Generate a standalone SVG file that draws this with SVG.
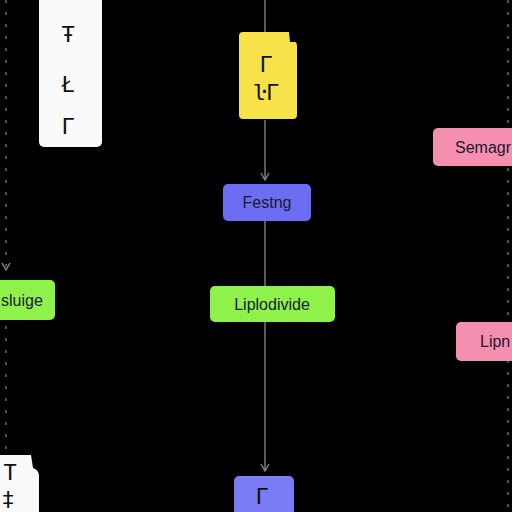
<svg xmlns="http://www.w3.org/2000/svg" width="512" height="512" viewBox="0 0 512 512">
<defs>
<style>
.lbl{font-family:"Liberation Sans",Arial,sans-serif;font-size:16px;fill:#1a1a2e;}
.glyph{font-family:"DejaVu Sans Mono",monospace;font-size:22px;fill:#111;}
.conn{stroke:#8a8a8a;stroke-width:1.3;fill:none;}
.dot{stroke:#777;stroke-width:1.3;stroke-dasharray:3 9;fill:none;}
</style>
<marker id="arr" viewBox="0 0 10 10" refX="9" refY="5" markerWidth="10" markerHeight="10" orient="auto" markerUnits="userSpaceOnUse">
<path d="M2,1 L9,5 L2,9" stroke="#8a8a8a" stroke-width="1.3" fill="none"/>
</marker>
</defs>
<rect width="512" height="512" fill="#000"/>
<g id="connectors">
<line class="dot" x1="6" y1="0" x2="6" y2="270" marker-end="url(#arr)"/>
<line class="dot" x1="6" y1="326" x2="6" y2="450"/>
<line class="conn" x1="265" y1="0" x2="265" y2="33"/>
<line class="conn" x1="265" y1="120" x2="265" y2="180" marker-end="url(#arr)"/>
<line class="conn" x1="265" y1="221" x2="265" y2="286"/>
<line class="conn" x1="265" y1="322" x2="265" y2="471" marker-end="url(#arr)"/>
<line class="dot" x1="508" y1="0" x2="508" y2="512"/>
</g>
<g id="node-white-top">
<rect x="39" y="-10" width="63" height="157" rx="5" fill="#fafafa"/>
<text class="glyph" x="68" y="42" text-anchor="middle">Ŧ</text>
<text class="glyph" x="68" y="92" text-anchor="middle">Ł</text>
<text class="glyph" x="68" y="134" text-anchor="middle">Г</text>
</g>
<g id="node-yellow">
<path d="M243,32 H289 L290,42 H295 Q297,42 297,47 V115 Q297,119 293,119 H243 Q239,119 239,115 V36 Q239,32 243,32 Z" fill="#f8e24a"/>
<text class="glyph" x="266" y="72" text-anchor="middle">Г</text>
<text class="glyph" x="266" y="100" text-anchor="middle">ŀГ</text>
</g>
<g id="node-fasting">
<rect x="223" y="184" width="88" height="37" rx="5" fill="#6b6ef2"/>
<text class="lbl" x="267" y="208" text-anchor="middle">Festng</text>
</g>
<g id="node-semagr">
<rect x="433" y="128" width="90" height="38" rx="5" fill="#f58fb0"/>
<text class="lbl" x="455" y="153">Semagr</text>
</g>
<g id="node-green-left">
<rect x="-20" y="280" width="75" height="40" rx="5" fill="#8ff24a"/>
<text class="lbl" x="1" y="306">sluige</text>
</g>
<g id="node-liplodivide">
<rect x="210" y="286" width="125" height="36" rx="5" fill="#8ff24a"/>
<text class="lbl" x="272" y="310" text-anchor="middle">Liplodivide</text>
</g>
<g id="node-lipn">
<rect x="456" y="322" width="70" height="39" rx="5" fill="#f58fb0"/>
<text class="lbl" x="480" y="347">Lipn</text>
</g>
<g id="node-white-bottom">
<path d="M-5,455 H31 L33,468 Q39,470 39,476 V520 H-5 Z" fill="#fafafa"/>
<text class="glyph" x="10" y="480" text-anchor="middle">T</text>
<text class="glyph" x="8" y="507" text-anchor="middle">‡</text>
</g>
<g id="node-blue-bottom">
<rect x="234" y="476" width="60" height="50" rx="5" fill="#7a7cf6"/>
<text class="glyph" x="262" y="504" text-anchor="middle">Г</text>
</g>
</svg>
